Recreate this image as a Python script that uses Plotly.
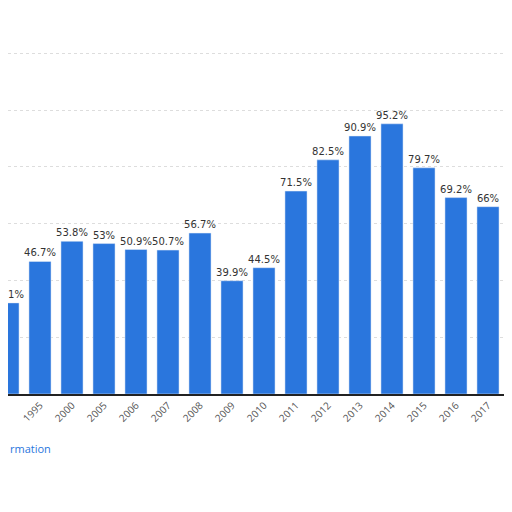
import plotly.graph_objects as go

years = ["1990","1995","2000","2005","2006","2007","2008","2009","2010","2011","2012","2013","2014","2015","2016","2017","2018"]
values = [32.1,46.7,53.8,53,50.9,50.7,56.7,39.9,44.5,71.5,82.5,90.9,95.2,79.7,69.2,66,62.3]
labels = [f"{v:g}%" for v in values]

fig = go.Figure(go.Bar(x=list(range(len(years))), y=values, text=labels, textposition="outside",
    textfont=dict(size=10, color="#333", family="DejaVu Sans"), cliponaxis=False,
    marker_color="#2a76dd", width=0.69))
fig.update_layout(width=512, height=512, margin=dict(l=0, r=0, t=0, b=126, autoexpand=False),
    plot_bgcolor="white", paper_bgcolor="white", showlegend=False,
    uniformtext=dict(minsize=10, mode="show"),
    xaxis=dict(range=[0, 16], tickmode="array", tickvals=list(range(len(years))), ticktext=years,
        tickangle=-45, tickfont=dict(size=10, color="#555"), showline=True, linecolor="#222", linewidth=1.5,
        ticks="", automargin=False),
    yaxis=dict(range=[0, 136], dtick=20, showticklabels=False, gridcolor="#ddd", griddash="dot",
        zeroline=False, automargin=False),
    annotations=[dict(x=0, y=-0.166, xref="paper", yref="paper", text="rmation", showarrow=False,
        xanchor="left", font=dict(size=11, color="#2a76dd")),
        dict(x=1, y=-0.179, xref="paper", yref="paper", text="©", showarrow=False,
        xanchor="right", font=dict(size=11, color="#555"))])
fig.write_html("out.html")
